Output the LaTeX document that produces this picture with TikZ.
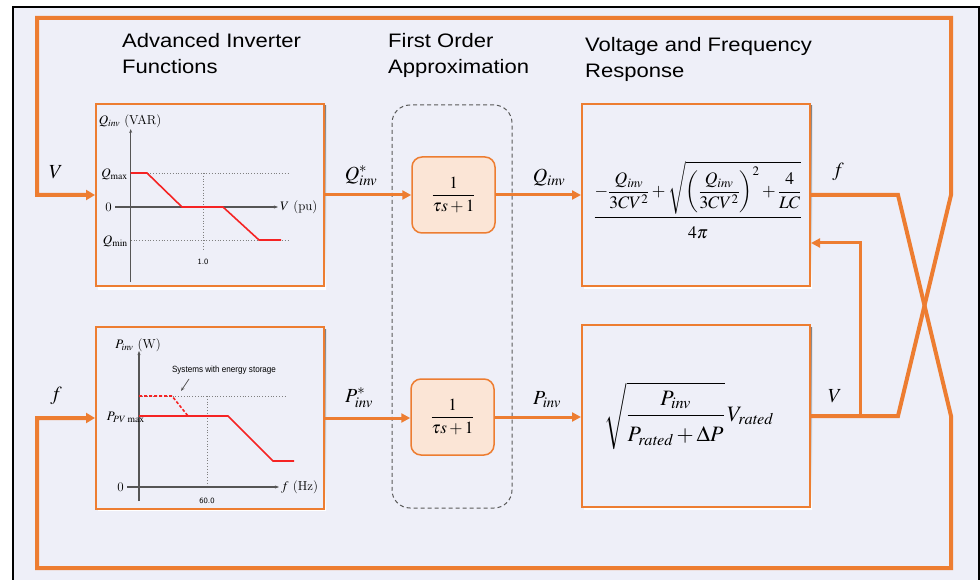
\documentclass[tikz,border=0pt]{standalone}
\usepackage{mathptmx}
\usepackage{fontspec}
\newfontfamily\hdr[FakeStretch=1.13]{Liberation Sans}
\newfontfamily\tinysans[FakeStretch=0.9]{Liberation Sans}
\usetikzlibrary{arrows.meta,calc}
\definecolor{bg}{RGB}{238,239,248}
\definecolor{org}{RGB}{237,125,49}
\definecolor{peach}{RGB}{251,229,214}
\definecolor{curve}{RGB}{245,35,35}
\definecolor{axisgray}{RGB}{85,85,85}
\definecolor{shade}{RGB}{215,216,225}
\begin{document}
\begin{tikzpicture}[x=1pt,y=-1pt,
  chartbox/.style={draw=org,line width=2pt,fill=bg,minimum height=182pt,inner sep=0pt},
  tfbox/.style={draw=org,line width=1.5pt,fill=peach,rounded corners=10pt,minimum width=83pt,minimum height=76pt,inner sep=0pt,font=\fontsize{17}{20}\selectfont},
  flow/.style={draw=org,line width=3pt,-{Triangle[length=9pt,width=9pt]}},
  loopend/.style={draw=org,line width=4pt,line join=miter,-{Triangle[length=9pt,width=10pt]}},
  header/.style={anchor=north west,inner sep=0pt,align=left,font=\hdr\fontsize{19.5}{26}\selectfont},
  sig/.style={inner sep=0pt,font=\fontsize{20}{24}\selectfont},
  axisarrow/.style={draw=axisgray,line width=1.1pt,-{Stealth[length=4pt,width=3pt]}},
  guide/.style={draw=gray,line width=0.8pt,dotted},
  redline/.style={draw=curve,line width=1.6pt},
  tick/.style={inner sep=0pt,font=\fontsize{13}{15}\selectfont},
  smalllabel/.style={inner sep=0pt,font=\fontsize{8}{10}\selectfont\sffamily}
]
\useasboundingbox (0,0) rectangle (980,580);
\fill[white] (0,0) rectangle (980,580);
\fill[bg] (13,7) rectangle (979,585);
\draw[black,line width=2pt] (13,585) -- (13,7) -- (979,7) -- (979,585);

% headers
\node[header] (h1) at (122,33) {Advanced Inverter\\Functions};
\node[header] (h2) at (388,33) {First Order\\Approximation};
\node[header] (h3) at (585,37) {Voltage and Frequency\\Response};

% dashed group
\node[draw=black!65,dashed,dash pattern=on 4pt off 3pt,line width=1pt,rounded corners=18pt,minimum width=120pt,minimum height=403pt] (grp) at (452,306.5) {};

% soft shadows behind boxes
\fill[shade] (98,106) rectangle (326,289);
\fill[shade] (98,329) rectangle (326,510);
\fill[shade] (584,106) rectangle (812,288);
\fill[shade] (584,327) rectangle (812,509);

% chart boxes
\node[chartbox,minimum width=228pt] (qbox) at (210,195) {};
\node[chartbox,minimum width=228pt] (pbox) at (210,418) {};

% right boxes
\node[chartbox,minimum width=228pt] (rq) at (696,195) {};
\node[chartbox,minimum width=228pt] (rp) at (696,416) {};
\node[inner sep=0pt,anchor=base,font=\fontsize{17.5}{21}\selectfont] (rqf) at (698,221.5)
  {$\displaystyle\frac{\displaystyle-\frac{Q_{\mathit{inv}}}{3CV^2}+\sqrt{\left(\frac{Q_{\mathit{inv}}}{3CV^2}\right)^{2}+\frac{4}{LC}}\rule[-5pt]{0pt}{5pt}}{\rule{0pt}{19pt}4\pi}$};
\node[inner sep=0pt,anchor=base,font=\fontsize{22}{26}\selectfont] (rpf) at (689,421)
  {$\displaystyle\sqrt{\frac{P_{\mathit{inv}}\rule[-7pt]{0pt}{7pt}}{\rule{0pt}{23pt}P_{\mathit{rated}}+{\Delta}P}}\,V_{\mathit{rated}}$};

% Q chart internals
\draw[guide] (130.7,173) -- (288,173);
\draw[guide] (130.7,240) -- (288,240);
\draw[guide] (203,173) -- (203,250);
\draw[axisarrow] (130.7,282) -- (130.7,129);
\draw[axisarrow] (115,207) -- (278,207);
\draw[redline] (130.7,173) -- (147,173) -- (182,207) -- (223,207) -- (259,240) -- (281,240);
\node[tick] (qlab) at (130,121) {$Q_{\mathit{inv}}$ (VAR)};
\node[tick,anchor=east] (qmax) at (128,174) {$Q_{\max}$};
\node[tick,anchor=east] (qzero) at (112,207) {0};
\node[tick,anchor=east] (qmin) at (128,241) {$Q_{\min}$};
\node[tick,anchor=west] (qv) at (280,207) {$V$ (pu)};
\node[smalllabel] (q10) at (203,262) {1.0};

% P chart internals
\draw[guide] (139,396) -- (287,396);
\draw[guide] (207,396) -- (207,487);
\draw[axisarrow] (139,501) -- (139,351);
\draw[axisarrow] (127,487) -- (279,487);
\draw[redline,dashed,dash pattern=on 3pt off 2pt] (139,396) -- (172,396) -- (188,416);
\draw[redline] (139,416) -- (228,416) -- (273,461) -- (294,461);
\node[tick] (plab) at (138,345) {$P_{\mathit{inv}}$ (W)};
\node[tick,anchor=east] (ppv) at (145,417) {$P_{PV\,\max}$};
\node[tick,anchor=east] (pzero) at (124,487) {0};
\node[tick,anchor=west] (pf) at (281,487) {$f$ (Hz)};
\node[smalllabel] (p60) at (207,501) {60.0};
\node[inner sep=0pt,font=\tinysans\fontsize{9}{11}\selectfont] (store) at (224,370) {Systems with energy storage};
\draw[draw=axisgray,line width=0.8pt,-{Stealth[length=4pt,width=3pt]}] (189,379) -- (181,391);

% transfer function boxes
\node[tfbox] (tf1) at (453.5,195) {$\displaystyle\frac{1}{\tau s+1}$};
\node[tfbox] (tf2) at (452.5,417) {$\displaystyle\frac{1}{\tau s+1}$};

% forward connectors
\draw[flow] (qbox.east) -- (tf1.west);
\draw[flow] (tf1.east) -- (tf1.east -| rq.west);
\draw[flow] (pbox.east) -- (pbox.east -| tf2.west);
\draw[flow] (tf2.east) -- (tf2.east -| rp.west);

% feedback loops
\coordinate (fknee) at (898,195);
\coordinate (vknee) at (898,416);
\coordinate (rtop) at (951,18);
\coordinate (rmidq) at (951,195);
\coordinate (rmidp) at (951,416);
\coordinate (rbot) at (951,568);
\coordinate (ltop) at (37,18);
\coordinate (lbot) at (37,568);
\coordinate (vtap) at (860,416);
\coordinate (fbk) at (860,243);

\draw[loopend] (rq.east) -- (fknee) -- (rmidp) -- (rbot) -- (lbot) |- (pbox.west);
\draw[loopend] (rp.east) -- (vknee) -- (rmidq) -- (rtop) -- (ltop) |- (qbox.west);
\draw[flow] (vtap) -- (fbk) -- (fbk -| rq.east);

% signal labels
\node[sig] (lv) at (56,172) {$V$};
\node[sig] (lf) at (56,396) {$f$};
\node[sig] (lqs) at (361,176) {$Q^{*}_{\mathit{inv}}$};
\node[sig] (lq) at (549,178) {$Q_{\mathit{inv}}$};
\node[sig] (lps) at (359,398) {$P^{*}_{\mathit{inv}}$};
\node[sig] (lp) at (547,400) {$P_{\mathit{inv}}$};
\node[sig] (rf) at (838,172) {$f$};
\node[sig] (rv) at (835,396) {$V$};
\end{tikzpicture}
\end{document}
